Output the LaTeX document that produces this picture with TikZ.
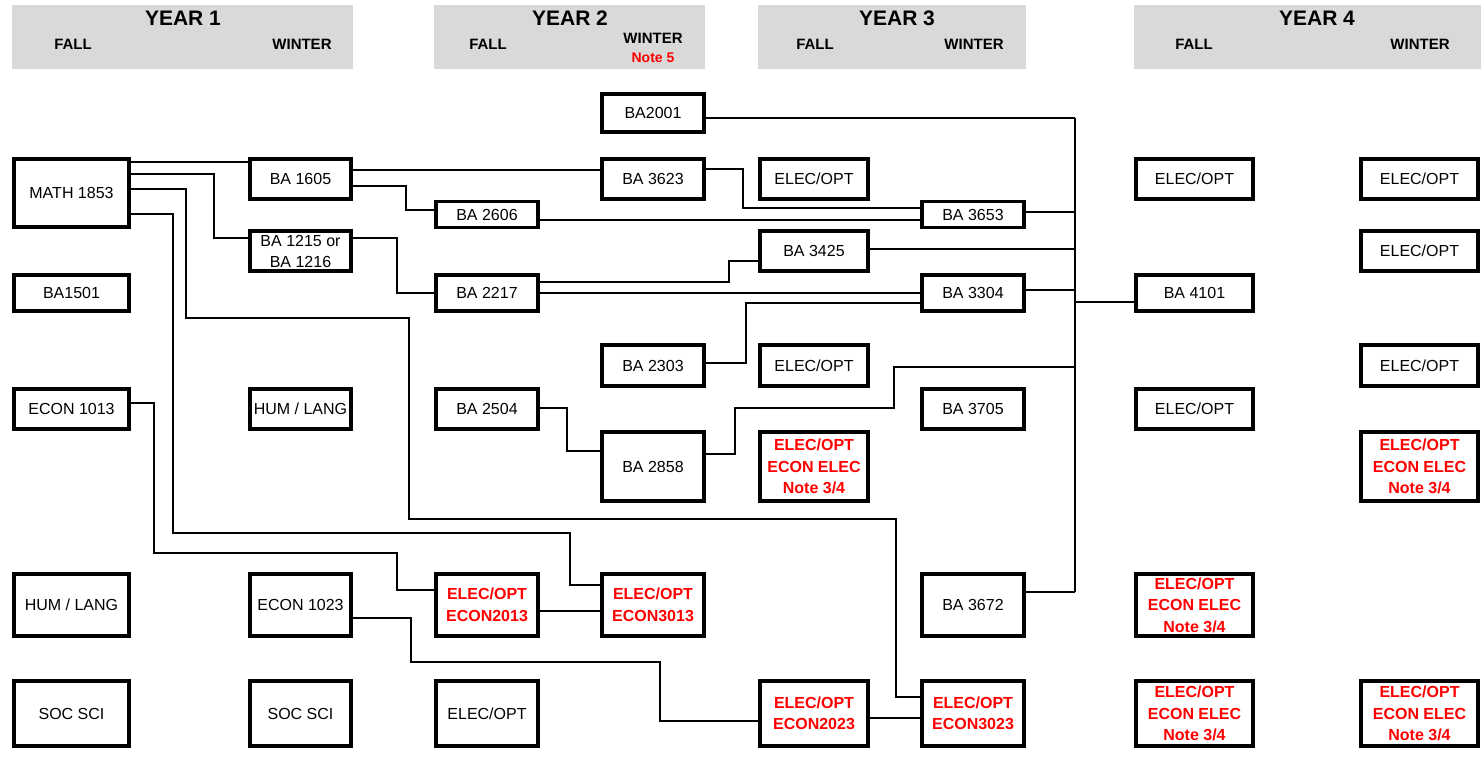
\documentclass[tikz,border=0pt]{standalone}
\usepackage{fontspec}
\setmainfont{Liberation Sans}
\usetikzlibrary{calc}
\definecolor{hdrgray}{RGB}{217,217,217}

\begin{document}
\begin{tikzpicture}[x=1pt,y=-1pt]

	\tikzset{
	  hdr/.style={fill=hdrgray, inner sep=0pt, minimum height=64},
	  yeartxt/.style={font=\fontsize{21}{24}\selectfont\bfseries},
	  termtxt/.style={font=\fontsize{15}{18}\selectfont\bfseries},
	  course/.style={draw, line width=3.5pt, align=center, inner sep=0pt,
	    font=\fontsize{16}{21}\selectfont},
	  opt/.style={course, text=red, font=\fontsize{16}{21.5}\selectfont\bfseries},
	  link/.style={line width=1.8pt},
	  wa/.style={minimum width=115},
	  wb/.style={minimum width=101},
	  wc/.style={minimum width=102},
	  wd/.style={minimum width=108},
	  we/.style={minimum width=117},
	  hs/.style={minimum height=26},
	  hm/.style={minimum height=40},
	  hn/.style={minimum height=36},
	  hl/.style={minimum height=68},
	  hx/.style={minimum height=69},
	  hy/.style={minimum height=62},
	  hz/.style={minimum height=65},
	}
	\useasboundingbox (0,0) rectangle (1481,757);

	% year headers
	\node[hdr, minimum width=341] (hdrone) at (182.5,37) {};
	\node[hdr, minimum width=271] (hdrtwo) at (569.5,37) {};
	\node[hdr, minimum width=268] (hdrthree) at (892,37) {};
	\node[hdr, minimum width=347] (hdrfour) at (1307.5,37) {};
	\node[yeartxt] (yrone) at (183,18) {YEAR 1};
	\node[termtxt] (fallone) at (73,44) {FALL};
	\node[termtxt] (winone) at (302,44) {WINTER};
	\node[yeartxt] (yrtwo) at (570,18) {YEAR 2};
	\node[termtxt] (falltwo) at (488,44) {FALL};
	\node[termtxt] (wintwo) at (653,38.5) {WINTER};
	\node[termtxt, text=red, font=\fontsize{14}{16}\selectfont\bfseries] (notehdr) at (653,58) {Note 5};
	\node[yeartxt] (yrthree) at (897,18) {YEAR 3};
	\node[termtxt] (fallthree) at (815,44) {FALL};
	\node[termtxt] (winthree) at (974,44) {WINTER};
	\node[yeartxt] (yrfour) at (1317,18) {YEAR 4};
	\node[termtxt] (fallfour) at (1194,44) {FALL};
	\node[termtxt] (winfour) at (1420,44) {WINTER};

	% year 1 fall
	\node[course, wa, hl] (math) at (71.5,193) {MATH 1853};
	\node[course, wa, hn] (b1501) at (71.5,293) {BA1501};
	\node[course, wa, hm] (e1013) at (71.5,409) {ECON 1013};
	\node[course, wa, hy] (humone) at (71.5,605) {HUM / LANG};
	\node[course, wa, hz] (socone) at (71.5,713.5) {SOC SCI};
	% year 1 winter
	\node[course, wb, hm] (b1605) at (300.5,179) {BA 1605};
	\node[course, wb, hm] (b1215) at (300.5,251) {BA 1215 or\\BA 1216};
	\node[course, wb, hm] (humtwo) at (300.5,409) {HUM / LANG};
	\node[course, wb, hy] (e1023) at (300.5,605) {ECON 1023};
	\node[course, wb, hz] (soctwo) at (300.5,713.5) {SOC SCI};
	% year 2 fall
	\node[course, wc, hs] (b2606) at (487,214.5) {BA 2606};
	\node[course, wc, hn] (b2217) at (487,293) {BA 2217};
	\node[course, wc, hm] (b2504) at (487,409) {BA 2504};
	\node[opt, wc, hy] (e2013) at (487,605) {ELEC/OPT\\ECON2013};
	\node[course, wc, hz] (optthree) at (487,713.5) {ELEC/OPT};
	% year 2 winter
	\node[course, wc, minimum height=38] (b2001) at (653,113) {BA2001};
	\node[course, wc, hm] (b3623) at (653,179) {BA 3623};
	\node[course, wc, minimum height=41] (b2303) at (653,365.5) {BA 2303};
	\node[course, wc, hx] (b2858) at (653,466.5) {BA 2858};
	\node[opt, wc, hy] (e3013) at (653,605) {ELEC/OPT\\ECON3013};
	% year 3 fall
	\node[course, wd, hm] (optfive) at (814,179) {ELEC/OPT};
	\node[course, wd, hm] (b3425) at (814,251) {BA 3425};
	\node[course, wd, minimum height=41] (optsix) at (814,365.5) {ELEC/OPT};
	\node[opt, wd, hx] (noteone) at (814,466.5) {ELEC/OPT\\ECON ELEC\\Note 3/4};
	\node[opt, wd, hz] (e2023) at (814,713.5) {ELEC/OPT\\ECON2023};
	% year 3 winter
	\node[course, wc, hs] (b3653) at (973,214.5) {BA 3653};
	\node[course, wc, hn] (b3304) at (973,293) {BA 3304};
	\node[course, wc, hm] (b3705) at (973,409) {BA 3705};
	\node[course, wc, hy] (b3672) at (973,605) {BA 3672};
	\node[opt, wc, hz] (e3023) at (973,713.5) {ELEC/OPT\\ECON3023};
	% year 4 fall
	\node[course, we, hm] (optseven) at (1194.5,179) {ELEC/OPT};
	\node[course, we, hn] (b4101) at (1194.5,293) {BA 4101};
	\node[course, we, hm] (opteight) at (1194.5,409) {ELEC/OPT};
	\node[opt, we, hy] (notetwo) at (1194.5,605) {ELEC/OPT\\ECON ELEC\\Note 3/4};
	\node[opt, we, hz] (notethree) at (1194.5,713.5) {ELEC/OPT\\ECON ELEC\\Note 3/4};
	% year 4 winter
	\node[course, we, hm] (optnine) at (1419.5,179) {ELEC/OPT};
	\node[course, we, hm] (optten) at (1419.5,251) {ELEC/OPT};
	\node[course, we, minimum height=41] (opteleven) at (1419.5,365.5) {ELEC/OPT};
	\node[opt, we, hx] (notefour) at (1419.5,466.5) {ELEC/OPT\\ECON ELEC\\Note 3/4};
	\node[opt, we, hz] (notefive) at (1419.5,713.5) {ELEC/OPT\\ECON ELEC\\Note 3/4};

	% prerequisite bus into BA 4101
	\coordinate (bustop) at (1075,118);
	\coordinate (busbot) at (1075,592);
	\draw[link] (bustop) -- (busbot);
	\draw[link] (b2001.east |- bustop) -- (bustop);
	\draw[link] (b3653.east |- 0,212) -- (1075,212);
	\draw[link] (b3425.east |- 0,249) -- (1075,249);
	\draw[link] (b3304.east |- 0,290) -- (1075,290);
	\draw[link] (b3672.east |- busbot) -- (busbot);
	\draw[link] (1075,302) -- (b4101.west |- 0,302);
	\draw[link] (b2858.east |- 0,454) -| (735,408) -| (894,367) -- (1075,367);

	% connectors
	\draw[link] (math.east |- 0,162) -- (b1605.west |- 0,162);
	\draw[link] (math.east |- 0,174) -| (214,238) -- (b1215.west |- 0,238);
	\draw[link] (math.east |- 0,189) -| (186,318) -| (409,519) -| (896,697) -- (e3023.west |- 0,697);
	\draw[link] (math.east |- 0,214) -| (173,533) -| (570,585) -- (e3013.west |- 0,585);
	\draw[link] (b1605.east |- 0,170) -- (b3623.west |- 0,170);
	\draw[link] (b1605.east |- 0,186) -| (406,210) -- (b2606.west |- 0,210);
	\draw[link] (b2606.east |- 0,220) -- (b3653.west |- 0,220);
	\draw[link] (b3623.east |- 0,169) -| (743,208) -- (b3653.west |- 0,208);
	\draw[link] (b1215.east |- 0,238) -| (397,293) -- (b2217.west |- 0,293);
	\draw[link] (b2217.east |- 0,282) -| (729,261) -- (b3425.west |- 0,261);
	\draw[link] (b2217.east |- 0,293) -- (b3304.west |- 0,293);
	\draw[link] (b2303.east |- 0,363) -| (746,303) -- (b3304.west |- 0,303);
	\draw[link] (b2504.east |- 0,408) -| (567,451) -- (b2858.west |- 0,451);
	\draw[link] (e1013.east |- 0,403) -| (154,553) -| (397,590) -- (e2013.west |- 0,590);
	\draw[link] (e2013.east |- 0,611) -- (e3013.west |- 0,611);
	\draw[link] (e1023.east |- 0,618) -| (411,662) -| (660,721) -- (e2023.west |- 0,721);
	\draw[link] (e2023.east |- 0,718) -- (e3023.west |- 0,718);

\end{tikzpicture}
\end{document}
